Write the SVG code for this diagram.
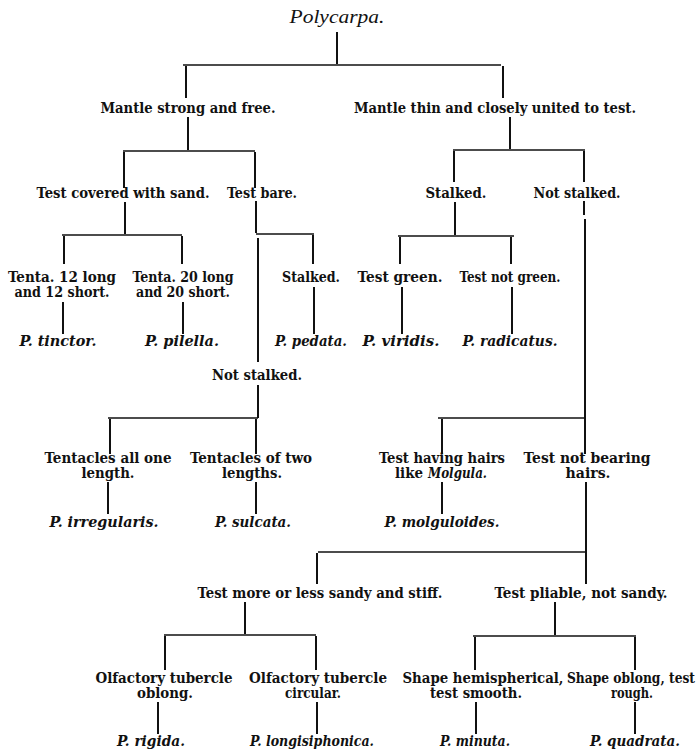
<svg xmlns="http://www.w3.org/2000/svg" width="699" height="751" viewBox="0 0 699 751">
<style>
text{font-family:"DejaVu Serif","Liberation Serif",serif;font-stretch:condensed;fill:#111;text-anchor:middle}
.n{font-size:14px;font-weight:bold}
.s{font-size:14px;font-weight:bold;font-style:italic}
.l{text-anchor:start}
.t{font-size:19px;font-style:italic;font-stretch:normal;font-family:"Liberation Serif","DejaVu Serif",serif}
.c line{stroke:#111;stroke-width:2;stroke-linecap:butt}
.c line.h{stroke-width:1.6}
</style>
<rect width="699" height="751" fill="#fff"/>
<g class="c" id="connectors">
<line x1="337" y1="32" x2="337" y2="64"/>
<line class="h" x1="183" y1="65" x2="501" y2="65"/>
<line x1="186" y1="66" x2="186" y2="98"/>
<line x1="503" y1="66" x2="503" y2="98"/>
<line x1="188" y1="117" x2="188" y2="150"/>
<line class="h" x1="123" y1="151" x2="255" y2="151"/>
<line x1="124" y1="152" x2="124" y2="188"/>
<line x1="255" y1="152" x2="255" y2="188"/>
<line x1="510" y1="117" x2="510" y2="149"/>
<line class="h" x1="453" y1="150" x2="585" y2="150"/>
<line x1="454" y1="151" x2="454" y2="182"/>
<line x1="584" y1="151" x2="584" y2="182"/>
<line x1="125" y1="202" x2="125" y2="234"/>
<line class="h" x1="62" y1="235" x2="182" y2="235"/>
<line x1="64" y1="236" x2="64" y2="264"/>
<line x1="182" y1="236" x2="182" y2="264"/>
<line x1="63" y1="302" x2="63" y2="334"/>
<line x1="183" y1="302" x2="183" y2="334"/>
<line x1="256" y1="201" x2="256" y2="233"/>
<line class="h" x1="256" y1="234" x2="314" y2="234"/>
<line x1="313" y1="235" x2="313" y2="264"/>
<line x1="258" y1="238" x2="258" y2="362"/>
<line x1="314" y1="287" x2="314" y2="334"/>
<line x1="258" y1="385" x2="258" y2="418"/>
<line class="h" x1="108" y1="418" x2="258" y2="418"/>
<line x1="110" y1="419" x2="110" y2="454"/>
<line x1="256" y1="419" x2="256" y2="454"/>
<line x1="108" y1="482" x2="108" y2="514"/>
<line x1="256" y1="482" x2="256" y2="514"/>
<line x1="455" y1="202" x2="455" y2="235"/>
<line class="h" x1="398" y1="236" x2="514" y2="236"/>
<line x1="400" y1="237" x2="400" y2="264"/>
<line x1="511" y1="237" x2="511" y2="264"/>
<line x1="402" y1="287" x2="402" y2="334"/>
<line x1="512" y1="287" x2="512" y2="334"/>
<line x1="584" y1="201" x2="584" y2="215"/>
<line x1="585" y1="219" x2="585" y2="454"/>
<line class="h" x1="438" y1="418" x2="585" y2="418"/>
<line x1="442" y1="419" x2="442" y2="454"/>
<line x1="442" y1="482" x2="442" y2="514"/>
<line x1="586" y1="482" x2="586" y2="584"/>
<line class="h" x1="318" y1="552" x2="586" y2="552"/>
<line x1="317" y1="553" x2="317" y2="584"/>
<line x1="245" y1="602" x2="245" y2="634"/>
<line class="h" x1="164" y1="635" x2="316" y2="635"/>
<line x1="165" y1="636" x2="165" y2="670"/>
<line x1="316" y1="636" x2="316" y2="670"/>
<line x1="158" y1="702" x2="158" y2="734"/>
<line x1="317" y1="702" x2="317" y2="734"/>
<line x1="555" y1="602" x2="555" y2="635"/>
<line class="h" x1="473" y1="636" x2="636" y2="636"/>
<line x1="475" y1="637" x2="475" y2="670"/>
<line x1="635" y1="637" x2="635" y2="670"/>
<line x1="476" y1="702" x2="476" y2="734"/>
<line x1="635" y1="702" x2="635" y2="734"/>
</g>
<g id="root"><text class="t" x="337" y="23" textLength="95" lengthAdjust="spacingAndGlyphs">Polycarpa.</text></g>
<g id="mantle-strong"><text class="n" x="188" y="113" textLength="175" lengthAdjust="spacingAndGlyphs">Mantle strong and free.</text></g>
<g id="mantle-thin"><text class="n" x="495" y="113" textLength="282" lengthAdjust="spacingAndGlyphs">Mantle thin and closely united to test.</text></g>
<g id="test-sand"><text class="n" x="123" y="198" textLength="173" lengthAdjust="spacingAndGlyphs">Test covered with sand.</text></g>
<g id="test-bare"><text class="n" x="262" y="198" textLength="70" lengthAdjust="spacingAndGlyphs">Test bare.</text></g>
<g id="stalked-r"><text class="n" x="456" y="198" textLength="61" lengthAdjust="spacingAndGlyphs">Stalked.</text></g>
<g id="not-stalked-r"><text class="n" x="577" y="198" textLength="87" lengthAdjust="spacingAndGlyphs">Not stalked.</text></g>
<g id="tenta12"><text class="n" x="62" y="282" textLength="108" lengthAdjust="spacingAndGlyphs">Tenta. 12 long</text><text class="n" x="62" y="297" textLength="95" lengthAdjust="spacingAndGlyphs">and 12 short.</text></g>
<g id="tenta20"><text class="n" x="183" y="282" textLength="101" lengthAdjust="spacingAndGlyphs">Tenta. 20 long</text><text class="n" x="183" y="297" textLength="94" lengthAdjust="spacingAndGlyphs">and 20 short.</text></g>
<g id="stalked-m"><text class="n" x="311" y="282" textLength="58" lengthAdjust="spacingAndGlyphs">Stalked.</text></g>
<g id="tinctor"><text class="s" x="58" y="346" textLength="77" lengthAdjust="spacingAndGlyphs">P. tinctor.</text></g>
<g id="pilella"><text class="s" x="182" y="346" textLength="74" lengthAdjust="spacingAndGlyphs">P. pilella.</text></g>
<g id="pedata"><text class="s" x="311" y="346" textLength="72" lengthAdjust="spacingAndGlyphs">P. pedata.</text></g>
<g id="test-green"><text class="n" x="400" y="282" textLength="85" lengthAdjust="spacingAndGlyphs">Test green.</text></g>
<g id="test-not-green"><text class="n" x="510" y="282" textLength="101" lengthAdjust="spacingAndGlyphs">Test not green.</text></g>
<g id="viridis"><text class="s" x="401" y="346" textLength="77" lengthAdjust="spacingAndGlyphs">P. viridis.</text></g>
<g id="radicatus"><text class="s" x="510" y="346" textLength="95" lengthAdjust="spacingAndGlyphs">P. radicatus.</text></g>
<g id="not-stalked-m"><text class="n" x="257" y="380" textLength="90" lengthAdjust="spacingAndGlyphs">Not stalked.</text></g>
<g id="tent-one"><text class="n" x="108" y="463" textLength="127" lengthAdjust="spacingAndGlyphs">Tentacles all one</text><text class="n" x="108" y="478" textLength="53" lengthAdjust="spacingAndGlyphs">length.</text></g>
<g id="tent-two"><text class="n" x="251" y="463" textLength="122" lengthAdjust="spacingAndGlyphs">Tentacles of two</text><text class="n" x="252" y="478" textLength="60" lengthAdjust="spacingAndGlyphs">lengths.</text></g>
<g id="irregularis"><text class="s" x="104" y="527" textLength="109" lengthAdjust="spacingAndGlyphs">P. irregularis.</text></g>
<g id="sulcata"><text class="s" x="253" y="527" textLength="76" lengthAdjust="spacingAndGlyphs">P. sulcata.</text></g>
<g id="hairs"><text class="n" x="442" y="463" textLength="126" lengthAdjust="spacingAndGlyphs">Test having hairs</text><text class="n l" x="395" y="478" textLength="28" lengthAdjust="spacingAndGlyphs">like</text><text class="s l" x="428" y="478" textLength="59" lengthAdjust="spacingAndGlyphs">Molgula.</text></g>
<g id="no-hairs"><text class="n" x="587" y="463" textLength="127" lengthAdjust="spacingAndGlyphs">Test not bearing</text><text class="n" x="588" y="478" textLength="45" lengthAdjust="spacingAndGlyphs">hairs.</text></g>
<g id="molguloides"><text class="s" x="442" y="527" textLength="115" lengthAdjust="spacingAndGlyphs">P. molguloides.</text></g>
<g id="sandy"><text class="n" x="320" y="598" textLength="245" lengthAdjust="spacingAndGlyphs">Test more or less sandy and stiff.</text></g>
<g id="pliable"><text class="n" x="581" y="598" textLength="173" lengthAdjust="spacingAndGlyphs">Test pliable, not sandy.</text></g>
<g id="olf-oblong"><text class="n" x="164" y="683" textLength="137" lengthAdjust="spacingAndGlyphs">Olfactory tubercle</text><text class="n" x="165" y="698" textLength="56" lengthAdjust="spacingAndGlyphs">oblong.</text></g>
<g id="olf-circular"><text class="n" x="318" y="683" textLength="138" lengthAdjust="spacingAndGlyphs">Olfactory tubercle</text><text class="n" x="313" y="698" textLength="56" lengthAdjust="spacingAndGlyphs">circular.</text></g>
<g id="hemispherical"><text class="n" x="483" y="683" textLength="161" lengthAdjust="spacingAndGlyphs">Shape hemispherical,</text><text class="n" x="476" y="698" textLength="92" lengthAdjust="spacingAndGlyphs">test smooth.</text></g>
<g id="oblong"><text class="n" x="631" y="683" textLength="128" lengthAdjust="spacingAndGlyphs">Shape oblong, test</text><text class="n" x="632" y="698" textLength="42" lengthAdjust="spacingAndGlyphs">rough.</text></g>
<g id="rigida"><text class="s" x="151" y="746" textLength="68" lengthAdjust="spacingAndGlyphs">P. rigida.</text></g>
<g id="longisiphonica"><text class="s" x="312" y="746" textLength="124" lengthAdjust="spacingAndGlyphs">P. longisiphonica.</text></g>
<g id="minuta"><text class="s" x="475" y="746" textLength="70" lengthAdjust="spacingAndGlyphs">P. minuta.</text></g>
<g id="quadrata"><text class="s" x="635" y="746" textLength="90" lengthAdjust="spacingAndGlyphs">P. quadrata.</text></g>
</svg>
